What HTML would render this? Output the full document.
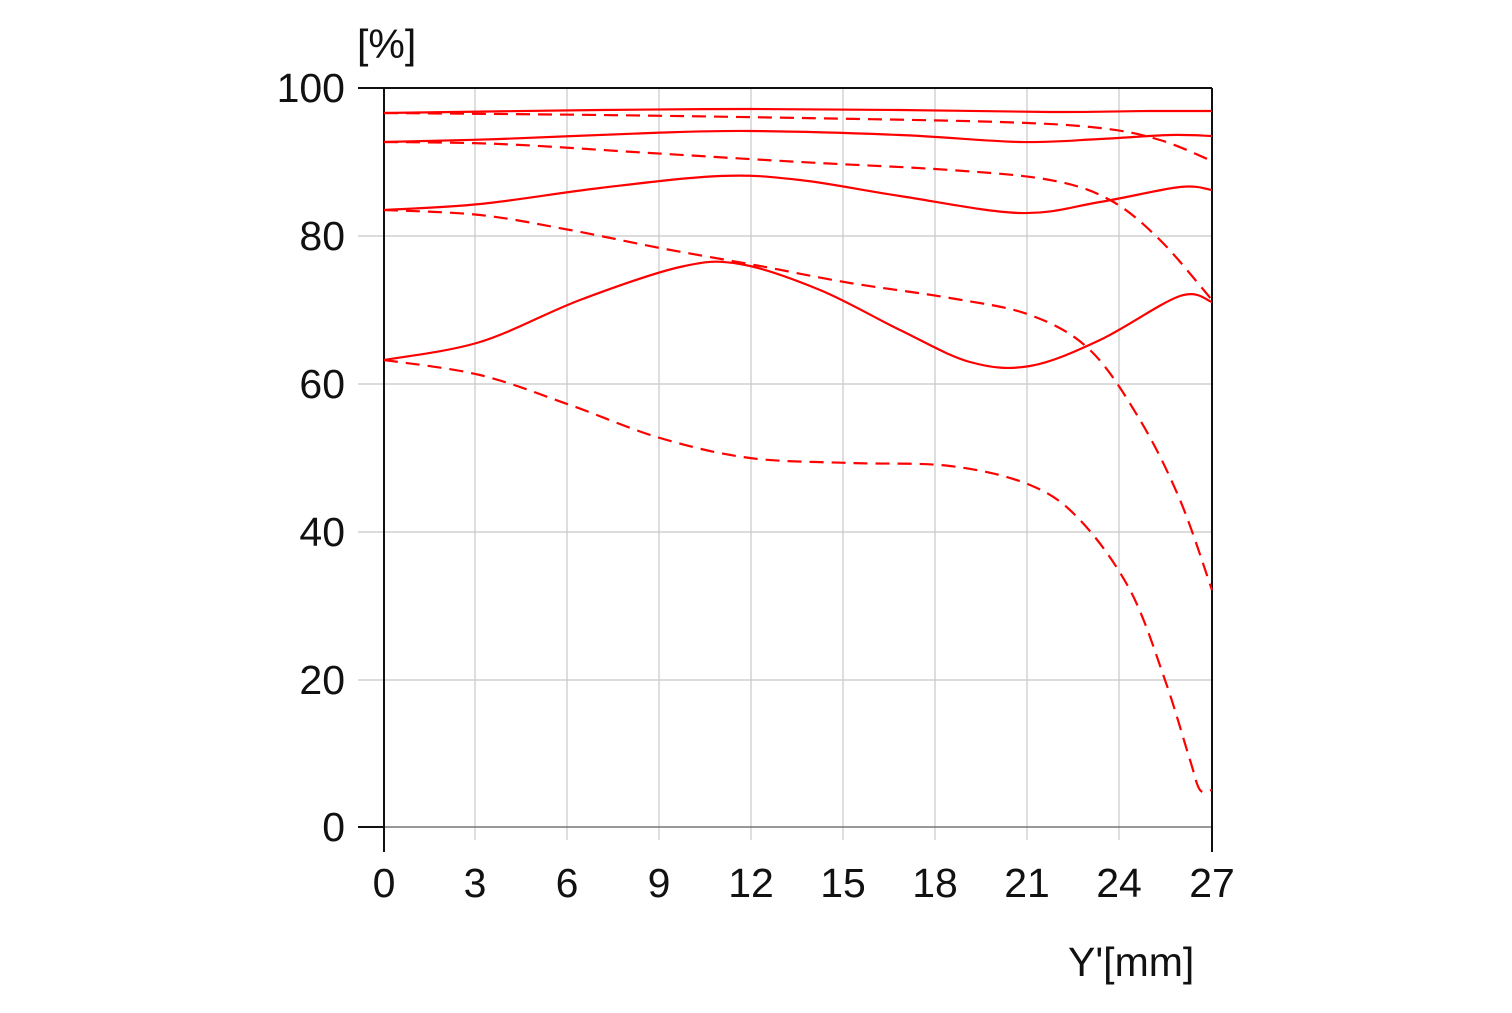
<!DOCTYPE html>
<html><head><meta charset="utf-8"><style>
body{margin:0;background:#fff}
svg text{font-family:"Liberation Sans",sans-serif;font-size:41px;fill:#111}
</style></head><body>
<svg id="s" width="1512" height="1008" viewBox="0 0 1512 1008" xmlns="http://www.w3.org/2000/svg">
<g stroke="#c8c8c8" stroke-width="1.2">
<line x1="475" y1="88" x2="475" y2="840"/><line x1="567" y1="88" x2="567" y2="840"/>
<line x1="659" y1="88" x2="659" y2="840"/><line x1="751" y1="88" x2="751" y2="840"/>
<line x1="843" y1="88" x2="843" y2="840"/><line x1="935" y1="88" x2="935" y2="840"/>
<line x1="1027" y1="88" x2="1027" y2="840"/><line x1="1119" y1="88" x2="1119" y2="840"/>
<line x1="358" y1="236" x2="1212" y2="236"/><line x1="358" y1="384" x2="1212" y2="384"/>
<line x1="358" y1="532" x2="1212" y2="532"/><line x1="358" y1="680" x2="1212" y2="680"/>
</g>
<line x1="358" y1="827" x2="1212" y2="827" stroke="#777" stroke-width="1.5"/>
<g stroke="#111" stroke-width="2" fill="none">
<line x1="384" y1="88" x2="384" y2="852"/>
<line x1="358" y1="88" x2="1212" y2="88"/>
<line x1="1212" y1="88" x2="1212" y2="852"/>
<line x1="358" y1="827" x2="384" y2="827"/>
</g>
<g id="c" fill="none" stroke="#ff0000" stroke-width="2.2"></g>
<g text-anchor="end">
<text x="345" y="102">100</text><text x="345" y="250">80</text><text x="345" y="398">60</text>
<text x="345" y="546">40</text><text x="345" y="694">20</text><text x="345" y="841">0</text>
</g>
<g text-anchor="middle">
<text x="384" y="897">0</text><text x="475" y="897">3</text><text x="567" y="897">6</text>
<text x="659" y="897">9</text><text x="751" y="897">12</text><text x="843" y="897">15</text>
<text x="935" y="897">18</text><text x="1027" y="897">21</text><text x="1119" y="897">24</text><text x="1212" y="897">27</text>
</g>
<text x="357" y="58">[%]</text>
<text x="1068" y="976">Y'[mm]</text>
</svg>
<script>
const S=[
[[384,113],[600,110],[750,109],[900,110],[1050,112],[1150,111],[1212,111]],
[[384,142],[500,139],[650,133],[750,131],[900,135],[1020,142],[1100,139],[1170,135],[1212,136]],
[[384,210],[480,204],[600,188],[720,176],[800,180],[900,196],[1020,213],[1100,202],[1180,187],[1212,190]],
[[384,360],[480,342],[580,300],[680,267],[740,264],[820,290],[900,330],[970,362],[1030,366],[1100,340],[1180,296],[1212,302]]];
const D=[
[[384,113],[600,115],[800,118],[1000,122],[1100,128],[1160,140],[1212,161]],
[[384,142],[500,144],[650,153],[800,162],[950,170],[1050,180],[1110,200],[1160,240],[1212,300]],
[[384,210],[480,215],[570,230],[660,248],[760,266],[850,283],[950,298],[1030,315],[1090,350],[1140,420],[1180,500],[1212,590]],
[[384,360],[480,375],[570,405],[660,438],[750,458],[850,463],[950,466],[1030,485],[1080,520],[1130,590],[1165,680],[1190,760],[1200,790],[1212,790]]];
function path(p){let d="M"+p[0];for(let i=0;i<p.length-1;i++){const a=p[i-1]||p[i],b=p[i],c=p[i+1],e=p[i+2]||c;
d+=" C"+(b[0]+(c[0]-a[0])/6)+","+(b[1]+(c[1]-a[1])/6)+" "+(c[0]-(e[0]-b[0])/6)+","+(c[1]-(e[1]-b[1])/6)+" "+c;}return d;}
const g=document.getElementById("c");
function add(p,dash){const e=document.createElementNS("http://www.w3.org/2000/svg","path");e.setAttribute("d",path(p));if(dash)e.setAttribute("stroke-dasharray","14 8");g.appendChild(e);}
S.forEach(p=>add(p,0));D.forEach(p=>add(p,1));
</script>
</body></html>
